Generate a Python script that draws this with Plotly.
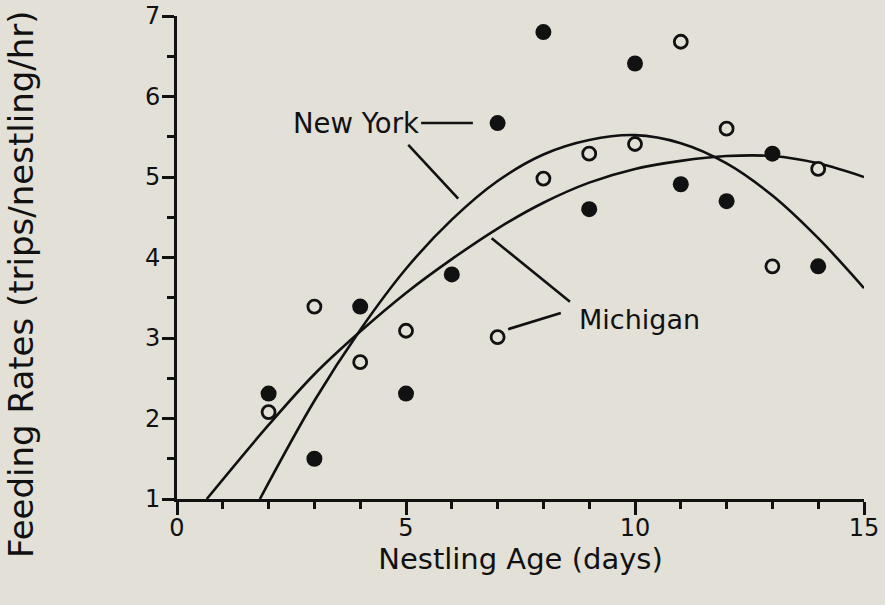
import plotly.graph_objects as go

# Observed feeding rates (filled = New York, open = Michigan)
ny_age = [2, 3, 4, 5, 6, 7, 8, 9, 10, 11, 12, 13, 14]
ny_rate = [2.31, 1.50, 3.39, 2.31, 3.79, 5.67, 6.80, 4.60, 6.41, 4.91, 4.70, 5.29, 3.89]

mi_age = [2, 3, 4, 5, 7, 8, 9, 10, 11, 12, 13, 14]
mi_rate = [2.08, 3.39, 2.70, 3.09, 3.01, 4.98, 5.29, 5.41, 6.68, 5.60, 3.89, 5.10]

# Fitted curves
ny_curve_age = [1.81, 3, 4, 5, 6, 7, 8, 9, 10, 11, 12, 13, 14, 15]
ny_curve_rate = [1.0, 2.22, 3.1, 3.86, 4.47, 4.95, 5.28, 5.46, 5.52, 5.42, 5.17, 4.77, 4.24, 3.62]

mi_curve_age = [0.65, 2, 3, 4, 5, 6, 7, 8, 9, 10, 11, 12, 13, 14, 15]
mi_curve_rate = [1.0, 1.92, 2.55, 3.08, 3.56, 3.98, 4.36, 4.68, 4.93, 5.1, 5.2, 5.26, 5.26, 5.17, 5.0]

x_ticks = [0, 5, 10, 15]
y_ticks = [1, 2, 3, 4, 5, 6, 7]

BG = "#e2e0d7"
INK = "#111111"
FONT = "DejaVu Sans"

fig = go.Figure()

fig.add_trace(go.Scatter(x=ny_curve_age, y=ny_curve_rate, mode="lines",
                         line=dict(color=INK, width=2.6, shape="spline"),
                         hoverinfo="skip", showlegend=False))
fig.add_trace(go.Scatter(x=mi_curve_age, y=mi_curve_rate, mode="lines",
                         line=dict(color=INK, width=2.6, shape="spline"),
                         hoverinfo="skip", showlegend=False))

fig.add_trace(go.Scatter(x=ny_age, y=ny_rate, mode="markers", name="New York",
                         marker=dict(symbol="circle", size=16, color=INK,
                                     line=dict(width=0)),
                         showlegend=False))
fig.add_trace(go.Scatter(x=mi_age, y=mi_rate, mode="markers", name="Michigan",
                         marker=dict(symbol="circle", size=13, color=BG,
                                     line=dict(width=2.8, color=INK)),
                         showlegend=False))

# Leader lines for labels
leaders = [
    (5.33, 5.67, 6.46, 5.67),
    (5.05, 5.40, 6.14, 4.73),
    (6.87, 4.24, 8.58, 3.45),
    (7.23, 3.11, 8.38, 3.31),
]
for x0, y0, x1, y1 in leaders:
    fig.add_shape(type="line", x0=x0, y0=y0, x1=x1, y1=y1, xref="x", yref="y",
                  line=dict(color=INK, width=2.6))

fig.add_annotation(x=5.33, y=5.67, xref="x", yref="y", text="New York",
                   showarrow=False, xanchor="right", yanchor="middle",
                   font=dict(family=FONT, size=27.5, color=INK))
fig.add_annotation(x=8.73, y=3.23, xref="x", yref="y", text="Michigan",
                   showarrow=False, xanchor="left", yanchor="middle",
                   font=dict(family=FONT, size=27, color=INK))

pw = 885 - 177 - 21
ph = 605 - 16 - 106
# Y axis title as annotation (placed as in the original)
fig.add_annotation(x=(21 - 177) / pw, y=(605 - 106 - 284) / ph,
                   xref="paper", yref="paper",
                   text="Feeding Rates (trips/nestling/hr)",
                   showarrow=False, textangle=-90,
                   xanchor="center", yanchor="middle",
                   font=dict(family=FONT, size=34, color=INK))

fig.update_layout(
    width=885, height=605,
    margin=dict(l=177, r=21, t=16, b=106),
    paper_bgcolor=BG, plot_bgcolor=BG,
    font=dict(family=FONT, size=24, color=INK),
    hovermode=False,
    xaxis=dict(range=[0, 15], showgrid=False, zeroline=False, automargin=False,
               showline=True, linewidth=3, linecolor=INK,
               tickmode="array", tickvals=x_ticks,
               ticks="outside", ticklen=13, tickwidth=3, tickcolor=INK,
               ticklabelstandoff=-8,
               minor=dict(dtick=1, ticks="outside", ticklen=7, tickwidth=2.5, tickcolor=INK),
               tickfont=dict(family=FONT, size=24, color=INK),
               title=dict(text="Nestling Age (days)", standoff=6,
                          font=dict(family=FONT, size=29, color=INK))),
    yaxis=dict(range=[1, 7], showgrid=False, zeroline=False, automargin=False,
               showline=True, linewidth=3, linecolor=INK,
               tickmode="array", tickvals=y_ticks,
               ticks="outside", ticklen=12, tickwidth=3, tickcolor=INK,
               ticklabelstandoff=-3,
               minor=dict(dtick=0.5, ticks="outside", ticklen=7, tickwidth=2.5, tickcolor=INK),
               tickfont=dict(family=FONT, size=24, color=INK)),
)

fig.write_html("out.html", config={"displayModeBar": False},
               post_script="document.body.style.margin='0';document.body.style.background='%s';" % BG)
